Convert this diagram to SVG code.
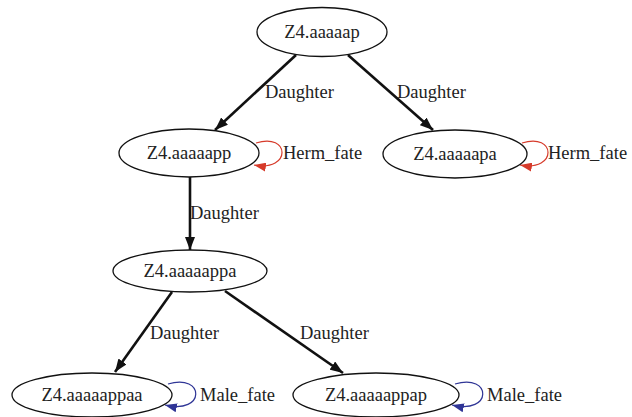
<svg xmlns="http://www.w3.org/2000/svg" width="632" height="417" viewBox="0 0 632 417">
<defs>
<marker id="ab" markerUnits="userSpaceOnUse" markerWidth="13" markerHeight="10" refX="13" refY="5" orient="auto"><path d="M0,0 L13,5 L0,10 z" fill="#111"/></marker>
<marker id="ar" markerUnits="userSpaceOnUse" markerWidth="12" markerHeight="9" refX="12" refY="4.5" orient="auto"><path d="M0,0 L12,4.5 L0,9 z" fill="#d63a2a"/></marker>
<marker id="an" markerUnits="userSpaceOnUse" markerWidth="12" markerHeight="9" refX="12" refY="4.5" orient="auto"><path d="M0,0 L12,4.5 L0,9 z" fill="#2f3596"/></marker>
</defs>
<style>
.n ellipse{fill:#fff;stroke:#111;stroke-width:1.3}
text{font-family:"Liberation Serif","Times New Roman",serif;font-size:18.5px;fill:#222}
.n text{text-anchor:middle}
.e{fill:none;stroke:#111;stroke-width:2.6}
.lr{fill:none;stroke:#d63a2a;stroke-width:1.2}
.lb{fill:none;stroke:#2f3596;stroke-width:1.2}
</style>
<rect width="632" height="417" fill="#fff"/>
<g id="connectors">
<path class="e" d="M296,55 L215,130" marker-end="url(#ab)"/>
<path class="e" d="M348,55 L433,130" marker-end="url(#ab)"/>
<path class="e" d="M190,177 L190,250" marker-end="url(#ab)"/>
<path class="e" d="M172,292 L115,372" marker-end="url(#ab)"/>
<path class="e" d="M225,291 L343,373" marker-end="url(#ab)"/>
<path class="lr" d="M256,143 C290,132 292,172 254,165" marker-end="url(#ar)"/>
<path class="lr" d="M522,143 C556,132 558,172 520,165" marker-end="url(#ar)"/>
<path class="lb" d="M168,384 C205,373 206,415 165,405" marker-end="url(#an)"/>
<path class="lb" d="M455,384 C492,373 493,415 452,405" marker-end="url(#an)"/>
<text x="265" y="98">Daughter</text>
<text x="397" y="98">Daughter</text>
<text x="190" y="219">Daughter</text>
<text x="150" y="339">Daughter</text>
<text x="300" y="339">Daughter</text>
<text x="283" y="159">Herm_fate</text>
<text x="548" y="159">Herm_fate</text>
<text x="200" y="401">Male_fate</text>
<text x="487" y="401">Male_fate</text>
</g>
<g id="n1" class="n"><ellipse cx="322" cy="32" rx="65" ry="24.5"/><text x="322" y="38">Z4.aaaaap</text></g>
<g id="n2" class="n"><ellipse cx="189" cy="153" rx="70" ry="24"/><text x="189" y="159">Z4.aaaaapp</text></g>
<g id="n3" class="n"><ellipse cx="455" cy="154" rx="72" ry="24"/><text x="455" y="160">Z4.aaaaapa</text></g>
<g id="n4" class="n"><ellipse cx="190" cy="271" rx="77" ry="21"/><text x="190" y="277">Z4.aaaaappa</text></g>
<g id="n5" class="n"><ellipse cx="92" cy="395" rx="80" ry="22"/><text x="92" y="401">Z4.aaaaappaa</text></g>
<g id="n6" class="n"><ellipse cx="376" cy="395" rx="83" ry="22"/><text x="376" y="401">Z4.aaaaappap</text></g>
</svg>
